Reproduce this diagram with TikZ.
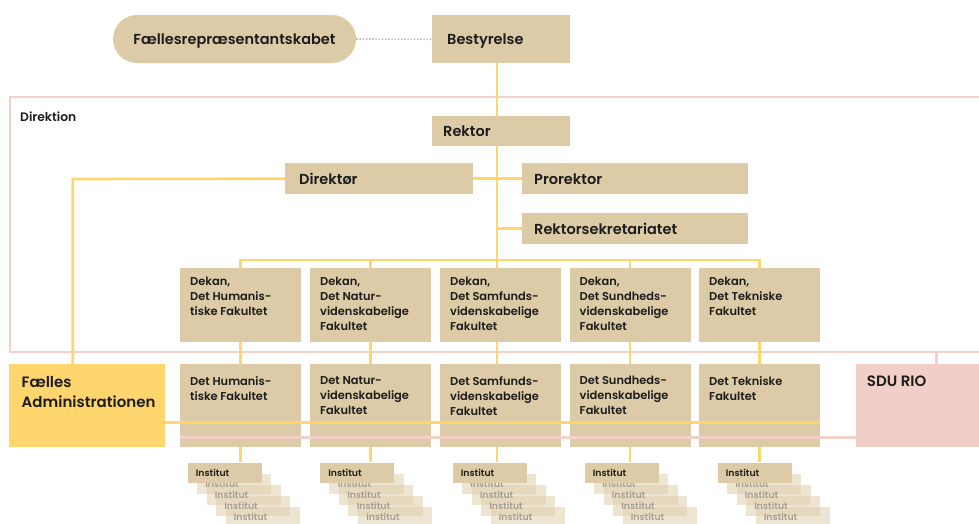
\documentclass[tikz,border=0pt]{standalone}
\usepackage{fontspec}
\setmainfont{Poppins SemiBold}
\usetikzlibrary{backgrounds}
\definecolor{tan}{RGB}{220,203,166}
\definecolor{yline}{RGB}{255,214,107}
\definecolor{pline}{RGB}{243,208,202}
\definecolor{rio}{RGB}{242,206,200}
\definecolor{fadmc}{RGB}{255,214,110}
\definecolor{ink}{RGB}{28,28,28}
\definecolor{ghost}{RGB}{165,157,145}
\definecolor{dotc}{RGB}{205,190,165}
\begin{document}
\begin{tikzpicture}[x=1pt,y=-1pt,
  box/.style={fill=tan, draw=none, inner sep=0pt, anchor=north west},
  onel/.style={box, text=ink, font=\fontsize{14.5}{18}\selectfont, align=left, text depth=0pt},
  txt/.style={inner sep=0pt, anchor=north west, align=left, text=ink},
  deantxt/.style={txt, font=\fontsize{11.4}{15}\selectfont},
  bigtxt/.style={txt, font=\fontsize{15}{20}\selectfont},
  inst/.style={box, minimum width=74.4pt, minimum height=20.5pt},
  insttxt/.style={inner sep=0pt, anchor=west, font=\fontsize{9.3}{10}\selectfont},
  ylw/.style={draw=yline, line width=2.6pt},
  pnk/.style={draw=pline, line width=2.6pt},
  dotline/.style={draw=dotc, line width=1.6pt, dash pattern=on 1.6pt off 1.6pt}]
\useasboundingbox (0,0) rectangle (979,523);

% top
\node[fill=tan, rounded corners=24pt, minimum width=243pt, minimum height=48pt,
  inner sep=0pt, text=ink, text depth=0pt, font=\fontsize{14.5}{18}\selectfont] (fr) at (234.5,39) {Fællesrepræsentantskabet};
\node[onel, minimum width=138pt, minimum height=48pt, text width=108pt, inner xsep=15pt] (best) at (432,15) {Bestyrelse};

% direktion
\node[onel, minimum width=138pt, minimum height=30pt, text width=116pt, inner xsep=11pt] (rek) at (432,116) {Rektor};
\node[onel, minimum width=188pt, minimum height=31pt, text width=160pt, inner xsep=14pt] (dir) at (285,163) {Direktør};
\node[onel, minimum width=226pt, minimum height=31pt, text width=202pt, inner xsep=12pt] (pro) at (522,163) {Prorektor};
\node[onel, minimum width=226pt, minimum height=31pt, text width=202pt, inner xsep=12pt] (rs) at (522,213) {Rektorsekretariatet};
\node[txt, anchor=west, font=\fontsize{12.3}{14}\selectfont] (dirk) at (20,117) {Direktion};

% deans
\foreach \i/\x/\t in {1/180/{Dekan,\\Det Humanis-\\tiske Fakultet},
                      2/310/{Dekan,\\Det Natur-\\videnskabelige\\Fakultet},
                      3/440/{Dekan,\\Det Samfunds-\\videnskabelige\\Fakultet},
                      4/569.5/{Dekan,\\Det Sundheds-\\videnskabelige\\Fakultet},
                      5/699/{Dekan,\\Det Tekniske\\Fakultet}}{
  \node[box, minimum width=121pt, minimum height=74pt] (dk\i) at (\x,268) {};
  \node[deantxt] (dkt\i) at ([xshift=10pt,yshift=-8.4pt]dk\i.north west) {\t};
}
% faculties
\foreach \i/\x/\t in {1/180/{Det Humanis-\\tiske Fakultet},
                      2/310/{Det Natur-\\videnskabelige\\Fakultet},
                      3/440/{Det Samfunds-\\videnskabelige\\Fakultet},
                      4/569.5/{Det Sundheds-\\videnskabelige\\Fakultet},
                      5/699/{Det Tekniske\\Fakultet}}{
  \node[box, minimum width=121pt, minimum height=83pt] (fa\i) at (\x,364) {};
  \node[deantxt] (fat\i) at ([xshift=10pt,yshift=-12.3pt]fa\i.north west) {\t};
}
\node[box, fill=fadmc, minimum width=156pt, minimum height=83pt] (fadm) at (9,364) {};
\node[bigtxt] (fadmt) at ([xshift=12.5pt,yshift=-12pt]fadm.north west) {Fælles\\Administrationen};
\node[box, fill=rio, minimum width=140pt, minimum height=83pt] (rio) at (855.7,364) {};
\node[bigtxt] (riot) at ([xshift=11pt,yshift=-12pt]rio.north west) {SDU RIO};

% institut stacks
\foreach \i/\L in {1/187.3,2/319.7,3/452.3,4/584.3,5/717.3}{
  \foreach \k in {4,3,2,1}{
    \node[inst, fill opacity=0.5] (in\i b\k) at (\L+9.5*\k,462.3+11*\k) {};
  }
  \foreach \k in {4,3,2,1}{
    \node[insttxt, text=ghost] (in\i t\k) at ([xshift=8.4pt]in\i b\k.west) {Institut};
  }
  \node[inst] (in\i) at (\L,462.3) {};
  \node[insttxt, text=ink] (in\i t) at ([xshift=8.4pt]in\i.west) {Institut};
}

\coordinate (spine) at (497,260);
\coordinate (leftx) at (72.7,179);
\coordinate (yrow) at (0,422.7);
\coordinate (prow) at (0,437.7);
\coordinate (riox) at (936.7,352);

\begin{scope}[on background layer]
  \draw[pnk] (995,97) -- (10,97) -- (10,352) -- (995,352);
  \draw[pnk] (riox) -- (riox |- rio.north);
  \draw[dotline] (fr.east) -- (best.west);
  \draw[ylw] (spine |- best.south) -- (spine);
  \draw[ylw] (dir.east) -- (pro.west);
  \draw[ylw] (spine |- rs.west) -- (rs.west);
  \draw[ylw] (dir.west) -- (leftx) -- (leftx |- fadm.north);
  \foreach \i/\cx in {1/240.5,2/370.5,3/497,4/630,5/759.5}{
    \coordinate (c\i) at (\cx,260);
    \draw[ylw] (c\i |- dk\i.south) -- (c\i |- fa\i.north);
    \draw[ylw] (c\i |- fa\i.south) -- (c\i |- in\i.north);
  }
  \draw[ylw] (c1 |- dk1.north) -- (c1) -- (c5) -- (c5 |- dk5.north);
  \foreach \i in {2,3,4}{ \draw[ylw] (c\i) -- (c\i |- dk\i.north); }
\end{scope}

\draw[ylw] (fadm.east |- yrow) -- (fa5.east |- yrow);
\draw[pnk] (fa1.west |- prow) -- (rio.west |- prow);
\end{tikzpicture}
\end{document}
